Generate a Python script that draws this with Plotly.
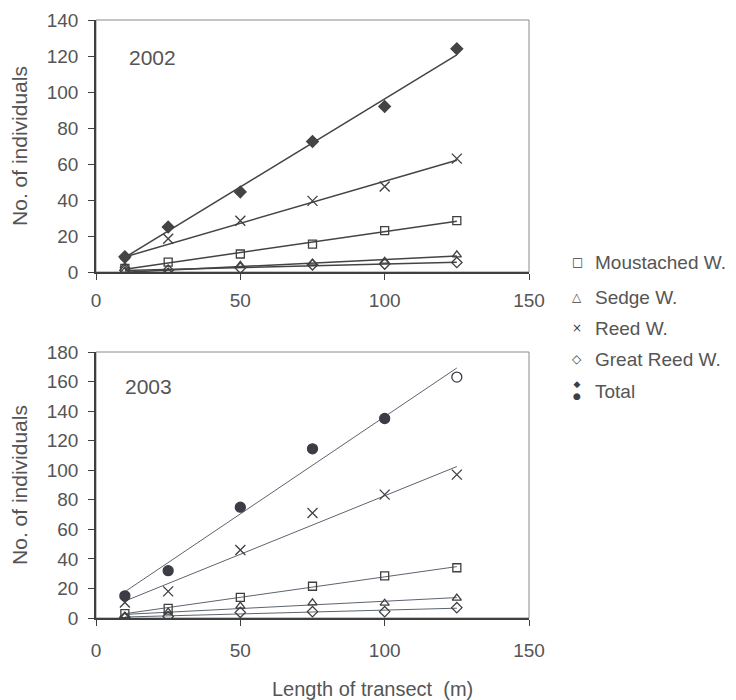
import numpy as np
import plotly.graph_objects as go

transect = [10, 25, 50, 75, 100, 125]
species = ["Moustached W.", "Sedge W.", "Reed W.", "Great Reed W.", "Total"]

y2002_moustached = [2, 5.5, 10, 15.5, 23, 28.5]
y2002_sedge = [0.5, 0, 3.7, 5, 6, 9.5]
y2002_reed = [5, 18.5, 28.5, 39.5, 47.5, 63]
y2002_greatreed = [1, 1, 2.2, 4, 4.4, 5.3]
y2002_total = [8.5, 25, 44.5, 72.5, 92, 124]

y2003_moustached = [3, 6.5, 14, 21.5, 28.5, 34]
y2003_sedge = [1, 4, 8, 10.3, 10, 13.5]
y2003_reed = [10.5, 18, 46, 71, 83.5, 97]
y2003_greatreed = [0.5, 1, 3.8, 4.3, 4.3, 7]
y2003_total = [15, 32, 75, 114.5, 135, 163]

x_ticks = [0, 50, 100, 150]
x_range = [0, 150]
y_range_2002 = [0, 140]
y_range_2003 = [0, 180]

TXT = "#555555"
DARK = "#3f3f3f"
FONT = "Liberation Sans, Arial, sans-serif"

# page body has an 8px margin: figure is placed at (8, 8)
OFF = 8
W, H = 720, 692
def fx(px):
    return (px - OFF) / W
def fy(py):
    return 1 - (py - OFF) / H

fig = go.Figure()

sym = {"Moustached W.": "square-open", "Sedge W.": "triangle-up-open",
       "Reed W.": "x-thin-open", "Great Reed W.": "diamond-open"}
msize = {"Moustached W.": 8, "Sedge W.": 8, "Reed W.": 10, "Great Reed W.": 8}

def add_year(series, xa, ya, line_color, line_w, total_sym, total_size, total_color):
    for name, vals in series:
        coef = np.polyfit(transect, vals, 1)
        xs = [transect[0], transect[-1]]
        fig.add_trace(go.Scatter(x=xs, y=list(np.polyval(coef, xs)), mode="lines",
                                 line=dict(color=line_color, width=line_w),
                                 xaxis=xa, yaxis=ya, showlegend=False, hoverinfo="skip"))
    for name, vals in series:
        if name == "Total":
            marker = dict(symbol=total_sym, size=total_size, color=total_color,
                          line=dict(color=total_color, width=1.3))
        else:
            marker = dict(symbol=sym[name], size=msize[name], color=DARK,
                          line=dict(color=DARK, width=1.3))
        fig.add_trace(go.Scatter(x=transect, y=vals, mode="markers", marker=marker,
                                 name=name, xaxis=xa, yaxis=ya, showlegend=False))

add_year([("Moustached W.", y2002_moustached), ("Sedge W.", y2002_sedge),
          ("Reed W.", y2002_reed), ("Great Reed W.", y2002_greatreed),
          ("Total", y2002_total)], "x", "y", "#444444", 1.5, "diamond", 9, "#444444")
add_year([("Moustached W.", y2003_moustached), ("Sedge W.", y2003_sedge),
          ("Reed W.", y2003_reed), ("Great Reed W.", y2003_greatreed),
          ("Total", y2003_total)], "x2", "y2", "#5c6470", 1,
         ["circle"] * 5 + ["circle-open"], 10, "#3c3c46")

axis_common = dict(showgrid=False, zeroline=False, showline=True, linecolor=DARK, linewidth=1.5,
                   ticks="outside", ticklen=6, tickcolor=DARK, tickwidth=1, automargin=False,
                   tickfont=dict(family=FONT, size=19, color=TXT))

fig.update_layout(
    width=W, height=H, margin=dict(l=0, r=0, t=0, b=0),
    paper_bgcolor="white", plot_bgcolor="white", showlegend=False,
    xaxis=dict(domain=[fx(96), fx(529)], range=x_range, tickvals=x_ticks, anchor="y",
               ticklabelstandoff=4, **axis_common),
    yaxis=dict(domain=[fy(272), fy(20)], range=y_range_2002, dtick=20, anchor="x",
               ticklabelstandoff=6,
               title=dict(text="No. of individuals", standoff=14,
                          font=dict(family=FONT, size=21, color=TXT)), **axis_common),
    xaxis2=dict(domain=[fx(96), fx(529)], range=x_range, tickvals=x_ticks, anchor="y2",
                ticklabelstandoff=8, **axis_common),
    yaxis2=dict(domain=[fy(618), fy(352)], range=y_range_2003, dtick=20, anchor="x2",
                ticklabelstandoff=6,
                title=dict(text="No. of individuals", standoff=14,
                           font=dict(family=FONT, size=21, color=TXT)), **axis_common),
)

# light frame (top/right)
for xa, ya in [("x", "y"), ("x2", "y2")]:
    fig.add_shape(type="rect", xref=f"{xa} domain", yref=f"{ya} domain", x0=0, x1=1, y0=0, y1=1,
                  line=dict(color="#8a8a8a", width=1), layer="below")

ann = []
ann.append(dict(text="2002", x=fx(152), y=fy(58), xref="paper", yref="paper", showarrow=False,
                font=dict(family=FONT, size=21, color=TXT), xanchor="center", yanchor="middle"))
ann.append(dict(text="2003", x=fx(148), y=fy(386), xref="paper", yref="paper", showarrow=False,
                font=dict(family=FONT, size=21, color=TXT), xanchor="center", yanchor="middle"))
ann.append(dict(text="Length of transect \u00a0(m)", x=fx(372), y=fy(689), xref="paper", yref="paper",
                showarrow=False, font=dict(family=FONT, size=20, color=TXT),
                xanchor="center", yanchor="middle"))

# legend
leg_syms = ["\u25a1", "\u25b3", "\u00d7", "\u25c7"]
leg_y = [262, 297, 328, 359, 391]
for i, name in enumerate(species):
    ann.append(dict(text=name, x=fx(593), y=fy(leg_y[i]), xref="paper", yref="paper",
                    showarrow=False, font=dict(family=FONT, size=19, color=TXT),
                    xanchor="left", yanchor="middle"))
for i, s in enumerate(leg_syms):
    ann.append(dict(text=s, x=fx(577), y=fy(leg_y[i]), xref="paper", yref="paper",
                    showarrow=False, font=dict(family="DejaVu Sans", size=12, color=DARK),
                    xanchor="center", yanchor="middle"))
ann.append(dict(text="\u25c6<br>\u25cf", x=fx(577), y=fy(390), xref="paper", yref="paper", showarrow=False,
                font=dict(family="DejaVu Sans", size=9, color=DARK), xanchor="center", yanchor="middle"))
fig.update_layout(annotations=ann)

fig.write_html("out.html")
